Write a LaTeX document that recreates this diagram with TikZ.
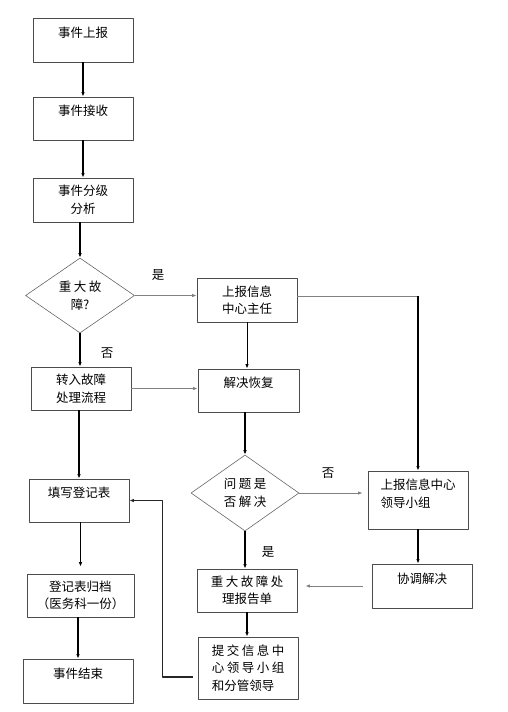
\documentclass[tikz,border=0pt]{standalone}
\usepackage{fontspec}
\newfontfamily\cjk{Noto Sans CJK SC}
\usetikzlibrary{shapes.geometric,arrows.meta}
\newcommand\sk{\kern2.5pt}
\begin{document}
\begin{tikzpicture}[x=1pt,y=-1pt,>={Latex[length=4.5pt,width=3.5pt]},
		font=\cjk\fontsize{12.5pt}{17.5pt}\selectfont, line join=round,
		box/.style={draw=black!70,line width=0.8pt,minimum width=100pt,minimum height=44pt,align=center,inner sep=2pt},
		upper/.style={text height=9pt,text depth=15pt},
		cond/.style={diamond,draw=black!60,line width=0.6pt,minimum width=109pt,minimum height=75pt,inner sep=0pt,align=center},
		vl/.style={->,line width=1.4pt},
		hl/.style={->,draw=black!50,line width=1pt}]
	\useasboundingbox (0,0) rectangle (507,712);
	% left column
	\node[box,upper] (rep) at (83,40) {事件上报};
	\node[box,upper,minimum height=43pt] (recv) at (83,118.5) {事件接收};
	\node[box] (grade) at (83,200) {事件分级\\分析};
	\node[cond] (big) at (80,295.5) {重\sk 大\sk 故\\障?};
	\node[box,minimum height=43pt] (turn) at (81,388.5) {转入故障\\处理流程};
	\node[box,upper,minimum height=43pt] (fill) at (79,500.5) {填写登记表};
	\node[box,minimum height=43pt,minimum width=107pt] (arch) at (80.5,595.5) {登记表归档\\（医务科一份）};
	\node[box,upper,minimum width=110pt] (end) at (78,681) {事件结束};
	% middle column
	\node[box] (dir) at (247,300) {上报信息\\中心主任};
	\node[box,upper,minimum height=43pt,minimum width=101pt] (fix) at (248.5,390.5) {解决恢复};
	\node[cond,minimum width=108pt,minimum height=76pt] (ok) at (245,493) {问\sk 题\sk 是\\否\sk 解\sk 决};
	\node[box,minimum height=43pt] (rpt) at (247,590.5) {重\sk 大\sk 故\sk 障\sk 处\\理报告单};
	\node[box,minimum height=62pt,align=left] (sub) at (248,668) {提\sk 交\sk 信\sk 息\sk 中\\心\sk 领\sk 导\sk 小\sk 组\\和分管领导};
	% right column
	\node[box,minimum height=58pt,align=left] (grp) at (418,500) {上报信息中心\\领导小组\\[-3.5pt]\mbox{}};
	\node[box,upper] (coord) at (422,586) {协调解决};
	% labels
	\node (yes1) at (158,275) {是};
	\node (no1) at (107,353) {否};
	\node (no2) at (328,473) {否};
	\node (yes2) at (268,552) {是};
	% connectors
	\draw[vl] (rep) -- (recv);
	\draw[vl] (recv) -- (grade);
	\draw[vl] (grade.south -| big.north) -- (big.north);
	\draw[hl] (big.east) -- (big.east -| dir.west);
	\draw[vl] (big.south) -- (big.south |- turn.north);
	\draw[hl] (turn.east) -- (turn.east -| fix.west);
	\draw[vl,line width=1pt] (dir.south) -- (dir.south |- fix.north);
	\coordinate (corner) at ([yshift=4pt]dir.east -| grp.north);
	\draw[draw=black!50,line width=1pt] ([yshift=4pt]dir.east) -- (corner);
	\draw[vl] (corner) -- (grp.north);
	\draw[vl] (fix.south -| ok.north) -- (ok.north);
	\draw[hl,shorten >=5pt] (ok.east) -- (ok.east -| grp.west);
	\draw[vl] (ok.south) -- (ok.south |- rpt.north);
	\draw[vl] (grp.south) -- (grp.south |- coord.north);
	\draw[hl,shorten <=9pt,shorten >=8pt] (coord.west) -- (coord.west -| rpt.east);
	\draw[vl] (rpt.south) -- (rpt.south |- sub.north);
	\draw[vl,line width=1.1pt,draw=black!85,shorten <=5pt] ([yshift=-9pt]sub.west) -- ++(-35,0) |- (fill.east);
	\draw[vl] (turn.south -| fill.north) -- (fill.north);
	\draw[vl,shorten >=7pt] (fill.south -| arch.north) -- (arch.north);
	\draw[vl] (arch.south -| end.north) -- (end.north);
\end{tikzpicture}
\end{document}
